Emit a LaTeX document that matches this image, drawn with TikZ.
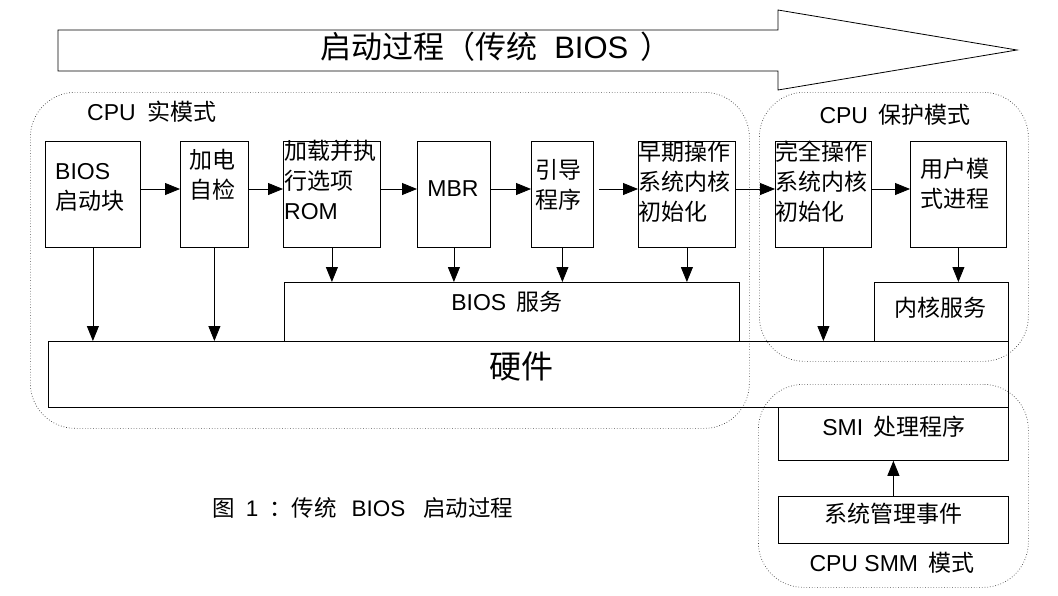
\documentclass[tikz,border=0pt]{standalone}
\usepackage{fontspec}
\setmainfont{Liberation Sans}
\newfontfamily\cjk{Noto Sans CJK SC}
\usetikzlibrary{arrows.meta}
\begin{document}
\begin{tikzpicture}[x=1pt,y=-1pt,
  box/.style={draw, line width=0.8pt, inner sep=0, anchor=north west},
  region/.style={draw=black!75, dotted, line width=0.7pt, rounded corners=45pt, inner sep=0, anchor=north west},
  arr/.style={-{Triangle[length=15pt,width=12pt]}, line width=0.8pt},
  txt/.style={font=\fontsize{23}{30}\selectfont, align=left, inner sep=0},
]
\useasboundingbox (0,0) rectangle (1058,595);

% big process arrow
\draw[line width=0.8pt] (58,30) -- (778,30) -- (778,10) -- (1017,50) -- (778,90) -- (778,71) -- (58,71) -- cycle;
\node[txt, anchor=west, font=\fontsize{31}{36}\selectfont] (title) at (320,47) {{\cjk 启动过程（传统}\hspace{0.55em}BIOS\hspace{0.4em}{\cjk ）}};

% mode regions
\node[region, minimum width=719pt, minimum height=336pt] (rm) at (30,92) {};
\node[region, minimum width=269pt, minimum height=269pt] (pm) at (759,92) {};
\node[region, minimum width=270pt, minimum height=203pt] (smm) at (758,384) {};

\node[txt, anchor=west] (rmlbl) at (87,112) {CPU\hspace{0.5em}{\cjk 实模式}};
\node[txt] (pmlbl) at (895,115) {CPU\hspace{0.45em}{\cjk 保护模式}};
\node[txt] (smmlbl) at (892,563) {CPU SMM\hspace{0.45em}{\cjk 模式}};

% boxes
\node[box, minimum width=95pt, minimum height=106pt] (bios) at (45,141) {};
\node[box, minimum width=68pt, minimum height=106pt] (post) at (180,141) {};
\node[box, minimum width=97pt, minimum height=106pt] (rom) at (283,141) {};
\node[box, minimum width=73pt, minimum height=106pt] (mbr) at (417,141) {};
\node[box, minimum width=62pt, minimum height=106pt] (boot) at (531,141) {};
\node[box, minimum width=97pt, minimum height=106pt] (early) at (638,141) {};
\node[box, minimum width=96pt, minimum height=106pt] (full) at (775,141) {};
\node[box, minimum width=96pt, minimum height=106pt] (user) at (910,141) {};
\node[box, minimum width=455pt, minimum height=59pt] (biossvc) at (284,282) {};
\node[box, minimum width=134pt, minimum height=59pt] (ksvc) at (874,282) {};
\node[box, minimum width=960pt, minimum height=66pt] (hw) at (48,341) {};
\node[box, minimum width=230pt, minimum height=53pt] (smi) at (778,407) {};
\node[box, minimum width=230pt, minimum height=47pt] (sme) at (778,496) {};

% box texts
\node[txt, anchor=west] (biost) at (55,187) {BIOS\\{\cjk 启动块}};
\node[txt, anchor=west] (postt) at (189,175) {{\cjk 加电}\\{\cjk 自检}};
\node[txt, anchor=west] (romt) at (284,180) {{\cjk 加载并执}\\{\cjk 行选项}\\ROM};
\node[txt] (mbrt) at (453,189) {MBR};
\node[txt, anchor=west] (boott) at (535,185) {{\cjk 引导}\\{\cjk 程序}};
\node[txt, anchor=west] (earlyt) at (638,182) {{\cjk 早期操作}\\{\cjk 系统内核}\\{\cjk 初始化}};
\node[txt, anchor=west] (fullt) at (775,182) {{\cjk 完全操作}\\{\cjk 系统内核}\\{\cjk 初始化}};
\node[txt, anchor=west] (usert) at (920,184) {{\cjk 用户模}\\{\cjk 式进程}};
\node[txt] (biossvct) at (507,302) {BIOS\hspace{0.45em}{\cjk 服务}};
\node[txt, font=\fontsize{32}{36}\selectfont] (hwt) at (521,366) {{\cjk 硬件}};
\node[txt] (ksvct) at (940,308) {{\cjk 内核服务}};
\node[txt] (smit) at (894,427) {SMI\hspace{0.45em}{\cjk 处理程序}};
\node[txt] (smet) at (893,514) {{\cjk 系统管理事件}};

% caption
\node[txt, anchor=west, font=\fontsize{22.5}{26}\selectfont] (caption) at (212,508) {{\cjk 图}\hspace{0.5em}1\hspace{0.47em}{\cjk ：传统}\hspace{0.67em}BIOS\hspace{0.8em}{\cjk 启动过程}};

% horizontal flow
\coordinate (fy) at (0,189);
\draw[arr] (bios.east |- fy) -- (post.west |- fy);
\draw[arr] (post.east |- fy) -- (rom.west |- fy);
\draw[arr] (rom.east |- fy) -- (mbr.west |- fy);
\draw[arr] (mbr.east |- fy) -- (boot.west |- fy);
\draw[arr, shorten <=5pt] (boot.east |- fy) -- (early.west |- fy);
\draw[arr] (early.east |- fy) -- (full.west |- fy);
\draw[arr] (full.east |- fy) -- (user.west |- fy);

% vertical arrows
\draw[arr] (bios.south) -- (bios.south |- hw.north);
\draw[arr] (post.south) -- (post.south |- hw.north);
\draw[arr] (rom.south) -- (rom.south |- biossvc.north);
\draw[arr] (mbr.south) -- (mbr.south |- biossvc.north);
\draw[arr] (boot.south) -- (boot.south |- biossvc.north);
\draw[arr] (early.south) -- (early.south |- biossvc.north);
\draw[arr] (full.south) -- (full.south |- hw.north);
\draw[arr] (user.south) -- (user.south |- ksvc.north);
\draw[arr] (sme.north) -- (smi.south);
\end{tikzpicture}
\end{document}
